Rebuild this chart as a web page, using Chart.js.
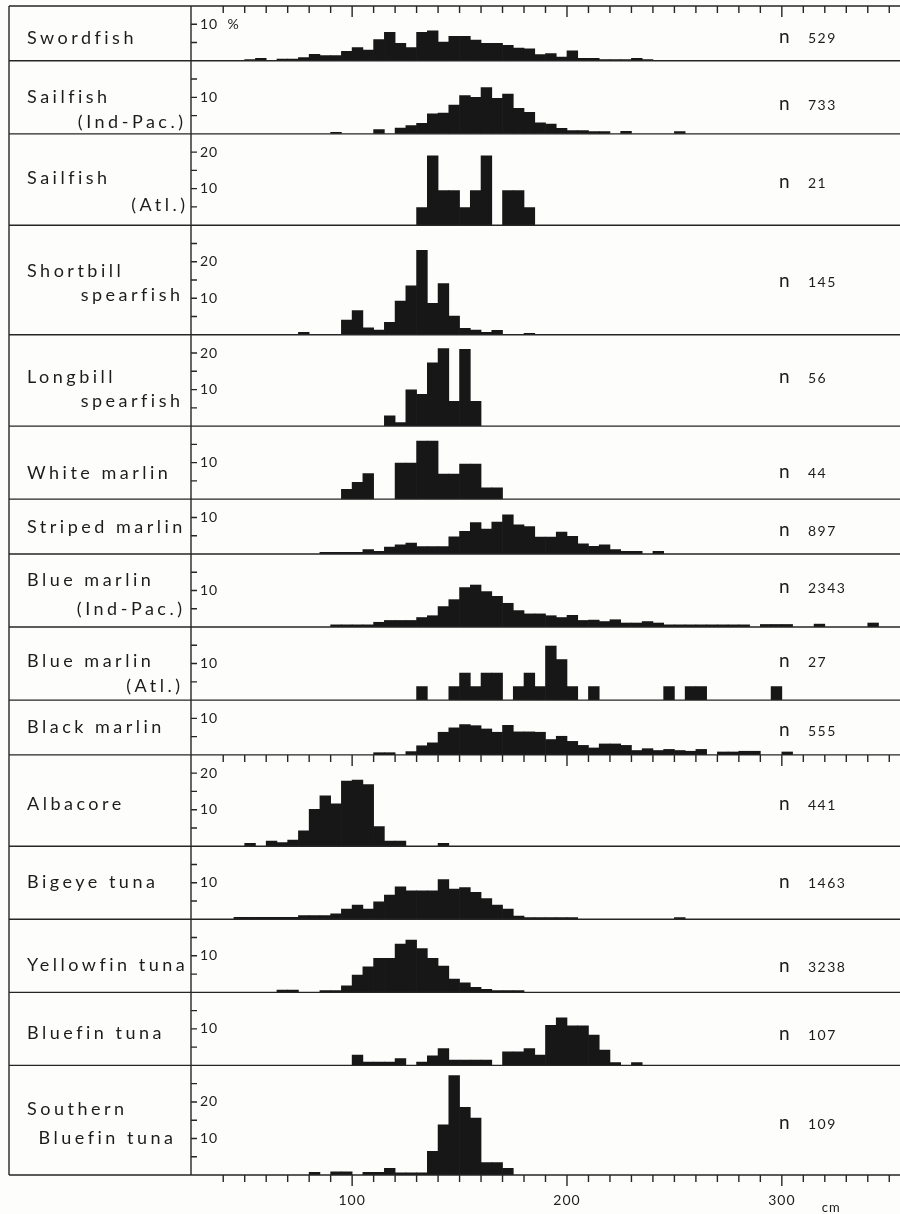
<!DOCTYPE html>
<html>
<head>
<meta charset="utf-8">
<title>Length frequency distributions</title>
<script src="https://cdn.jsdelivr.net/npm/chart.js@4.4.1/dist/chart.umd.min.js"></script>
<style>
  html, body { margin: 0; padding: 0; background: #fdfdfc; }
  canvas { display: block; }
</style>
</head>
<body>
<canvas id="fig" width="900" height="1214"></canvas>
<script>
// Length-frequency histograms (percent per 5 cm class) for billfishes and tunas.
const binWidth = 5;

const speciesLabels = [
  ['Swordfish'],
  ['Sailfish', '(Ind-Pac.)'],
  ['Sailfish', '(Atl.)'],
  ['Shortbill', 'spearfish'],
  ['Longbill', 'spearfish'],
  ['White marlin'],
  ['Striped marlin'],
  ['Blue marlin', '(Ind-Pac.)'],
  ['Blue marlin', '(Atl.)'],
  ['Black marlin'],
  ['Albacore'],
  ['Bigeye tuna'],
  ['Yellowfin tuna'],
  ['Bluefin tuna'],
  ['Southern', 'Bluefin tuna']
];
const sampleSize = [529, 733, 21, 145, 56, 44, 897, 2343, 27, 555, 441, 1463, 3238, 107, 109];

// lower edge (cm) of the first class in each series
const firstBin = [50, 90, 130, 75, 115, 95, 85, 90, 130, 110, 50, 45, 65, 100, 80];

const swordfish = [0.3, 0.7, 0, 0.45, 0.45, 0.9, 1.8, 1.45, 1.45, 2.6, 3.6, 2.9, 5.8, 7.8, 4.8, 3.6, 7.8, 8.2, 5.1, 6.7,
  6.7, 5.7, 4.8, 4.8, 4.2, 3.5, 3.3, 1.7, 2.0, 1.0, 2.7, 0.7, 0.7, 0.3, 0.3, 0.3, 0.7, 0.3];
const sailfishIndPac = [0.45, 0, 0, 0, 1.2, 0, 1.6, 2.3, 2.9, 5.5, 5.7, 7.9, 10.5, 10.0, 12.7, 9.7, 10.9, 7.0, 5.9, 3.0,
  2.7, 1.5, 0.9, 0.9, 0.6, 0.6, 0, 0.7, 0, 0, 0, 0, 0.6];
const sailfishAtl = [4.8, 19.0, 9.5, 9.5, 4.8, 9.5, 19.0, 0, 9.5, 9.5, 4.8];
const shortbillSpearfish = [0.7, 0, 0, 0, 4.0, 6.6, 1.9, 1.3, 3.4, 9.2, 13.4, 23.1, 8.6, 14.0, 5.1, 1.8, 1.3, 0.7, 1.2, 0, 0, 0.4];
const longbillSpearfish = [2.8, 1.0, 9.9, 8.7, 17.3, 21.2, 6.8, 21.0, 6.8];
const whiteMarlin = [2.7, 4.6, 7.0, 0, 0, 9.9, 9.9, 15.9, 15.9, 6.9, 6.9, 9.6, 9.6, 3.1, 3.1];
const stripedMarlin = [0.45, 0.45, 0.45, 0.45, 1.2, 0.7, 1.9, 2.5, 3.0, 2.0, 2.0, 2.0, 4.7, 6.2, 8.6, 6.8, 8.7, 10.7, 8.0, 7.5,
  4.6, 4.6, 6.0, 4.8, 2.8, 2.1, 2.5, 1.2, 0.7, 0.7, 0, 0.7];
const blueMarlinIndPac = [0.6, 0.6, 0.6, 0.6, 1.3, 1.8, 1.8, 1.8, 2.6, 3.1, 5.6, 7.5, 10.8, 11.5, 9.7, 8.4, 6.5, 4.5, 3.6, 3.6,
  3.1, 2.6, 3.2, 1.8, 1.9, 1.5, 2.0, 1.1, 1.1, 1.5, 1.1, 0.6, 0.6, 0.6, 0.6, 0.6, 0.6, 0.6, 0.6, 0,
  0.7, 0.7, 0.7, 0, 0, 0.8, 0, 0, 0, 0, 1.1];
const blueMarlinAtl = [3.7, 0, 0, 3.7, 7.4, 3.7, 7.4, 7.4, 0, 3.7, 7.4, 3.7, 14.8, 11.1, 3.7, 0, 3.7, 0, 0, 0,
  0, 0, 0, 3.7, 0, 3.7, 3.7, 0, 0, 0, 0, 0, 0, 3.7];
const blackMarlin = [0.6, 0.6, 0, 0.9, 2.5, 3.3, 6.2, 7.4, 8.3, 8.0, 7.1, 6.2, 8.1, 6.3, 6.3, 6.2, 4.2, 5.1, 3.7, 2.6,
  1.9, 3.0, 3.0, 2.6, 1.2, 1.7, 1.2, 1.5, 1.2, 1.0, 1.5, 0, 0.8, 0.8, 1.0, 1.0, 0, 0, 0.8];
const albacore = [0.8, 0, 1.4, 1.0, 1.7, 4.2, 10.1, 13.8, 11.6, 17.8, 18.1, 16.9, 5.4, 1.4, 1.4, 0, 0, 0, 0.8];
const bigeyeTuna = [0.55, 0.55, 0.55, 0.55, 0.55, 0.55, 1.0, 1.0, 1.0, 1.5, 2.8, 3.9, 2.8, 4.8, 6.6, 8.9, 7.8, 7.8, 7.8, 10.9,
  8.3, 8.7, 7.4, 5.7, 3.9, 2.8, 0.9, 0.45, 0.45, 0.45, 0.45, 0.45, 0, 0, 0, 0, 0, 0, 0, 0, 0, 0.45];
const yellowfinTuna = [0.6, 0.6, 0, 0, 0.45, 0.45, 1.8, 4.7, 7.0, 9.3, 9.3, 13.2, 14.3, 12.0, 9.3, 7.2, 3.6, 2.6, 1.4, 0.8,
  0.45, 0.45, 0.45];
const bluefinTuna = [2.8, 0.9, 0.9, 0.9, 1.9, 0, 0.9, 2.6, 4.6, 1.45, 1.45, 1.45, 1.45, 0, 3.7, 3.7, 4.6, 2.8, 11.0, 13.0,
  10.8, 10.8, 8.3, 4.2, 0.8, 0, 0.8];
const southernBluefinTuna = [0.7, 0, 0.9, 0.9, 0, 0.7, 0.7, 1.8, 0.6, 0.6, 0.6, 6.5, 13.7, 27.2, 18.5, 15.6, 3.4, 3.4, 1.8];

const series = [swordfish, sailfishIndPac, sailfishAtl, shortbillSpearfish, longbillSpearfish, whiteMarlin,
  stripedMarlin, blueMarlinIndPac, blueMarlinAtl, blackMarlin, albacore, bigeyeTuna, yellowfinTuna,
  bluefinTuna, southernBluefinTuna];

// percent range of each panel and the length axis
const yMax = [15, 20, 25, 30, 25, 20, 15, 20, 20, 15, 25, 20, 20, 20, 30];
const lengthRange = [30, 350];
const lengthLabels = [100, 200, 300];

// text placement, measured from each panel's baseline
const FONT = 'Lato, "DejaVu Sans", sans-serif';
const INK = '#1c1c1c';
const labelDy = [[-16.5], [-31, -6], [-41, -14.5], [-58, -34], [-43, -19], [-20], [-21], [-41, -12],
  [-33.5, -8.5], [-21.5], [-36], [-31], [-21.5], [-26], [-60, -31]];
const line2Right = [0, 183, 185, 180, 180, 0, 0, 182, 180, 0, 0, 0, 0, 0, 173];
const nDy = [-17.5, -24, -37, -48, -43, -21, -17.5, -34, -33.5, -18.5, -36, -31, -20.5, -25.5, -46.5];

const datasets = series.map((vals, i) => ({
  label: speciesLabels[i].join(' '),
  yAxisID: 'y' + i,
  backgroundColor: '#171717',
  borderColor: '#171717',
  borderWidth: 0,
  grouped: false,
  barPercentage: 1,
  categoryPercentage: 1,
  data: vals
    .map((v, k) => ({ x: firstBin[i] + k * binWidth + binWidth / 2, y: v }))
    .filter(p => p.y > 0)
}));

const scales = {
  x: {
    type: 'linear',
    position: 'bottom',
    min: lengthRange[0],
    max: lengthRange[1],
    afterFit: s => { s.height = 39; s.paddingLeft = 0; s.paddingRight = 0; },
    grid: { display: false, drawTicks: false },
    border: { display: false },
    ticks: {
      stepSize: 10,
      autoSkip: false,
      maxRotation: 0,
      includeBounds: false,
      padding: 17,
      color: '#222',
      font: { family: FONT, size: 14 },
      callback: v => lengthLabels.includes(v) ? String(v) : ''
    }
  }
};

series.forEach((_, i) => {
  scales['y' + i] = {
    type: 'linear',
    position: 'left',
    stack: 'panels',
    stackWeight: yMax[i],
    weight: series.length - i, // keeps panel order top to bottom
    min: 0,
    max: yMax[i],
    afterFit: s => { s.width = 0; s.paddingTop = 0; s.paddingBottom = 0; },
    grid: { display: false, drawTicks: false },
    border: { display: false },
    ticks: {
      stepSize: 5,
      autoSkip: false,
      includeBounds: false,
      mirror: true,
      padding: 9,
      color: '#222',
      font: { family: FONT, size: 14 },
      callback: v => {
        if (v <= 0 || v % 10 !== 0 || v >= yMax[i]) return '';
        return i === 0 ? v + '  %' : String(v);
      }
    }
  };
});

// frame, row rules, tick marks and the text around the histograms
const framePlugin = {
  id: 'frame',
  beforeDraw(chart) {
    const ctx = chart.ctx;
    ctx.save();
    ctx.fillStyle = '#fdfdfc';
    ctx.fillRect(0, 0, chart.width, chart.height);
    ctx.restore();
    ctx.letterSpacing = '1px';
  },
  afterDraw(chart) {
    const { ctx, chartArea, scales: sc } = chart;
    const x = sc.x;
    const left = 9, right = chart.width;

    ctx.save();
    ctx.strokeStyle = '#262626';
    ctx.lineWidth = 1.4;
    ctx.beginPath();
    ctx.moveTo(left, chartArea.top); ctx.lineTo(right, chartArea.top);
    ctx.moveTo(left, chartArea.top); ctx.lineTo(left, chartArea.bottom);
    ctx.moveTo(chartArea.left, chartArea.top); ctx.lineTo(chartArea.left, chartArea.bottom);

    series.forEach((_, i) => {
      const ys = sc['y' + i];
      const base = ys.getPixelForValue(0);
      ctx.moveTo(left, base); ctx.lineTo(right, base);
      ys.ticks.forEach(t => {
        if (t.value <= 0 || t.value >= ys.max) return;
        const py = ys.getPixelForValue(t.value);
        ctx.moveTo(chartArea.left, py); ctx.lineTo(chartArea.left + 6, py);
      });
    });

    // length ticks hang from the top edge, the black marlin baseline and the bottom axis
    [chartArea.top, sc.y9.bottom, chartArea.bottom].forEach(y0 => {
      x.ticks.forEach(t => {
        if (t.value <= x.min) return;
        const px = x.getPixelForValue(t.value);
        const len = t.value % 100 === 0 ? 11 : 7;
        ctx.moveTo(px, y0); ctx.lineTo(px, y0 + len);
      });
    });
    ctx.stroke();

    ctx.fillStyle = INK;
    ctx.textBaseline = 'alphabetic';
    speciesLabels.forEach((lines, i) => {
      const base = sc['y' + i].bottom;
      ctx.font = '18px ' + FONT;
      ctx.letterSpacing = '3.5px';
      ctx.textAlign = 'left';
      ctx.fillText(lines[0], 27, base + labelDy[i][0]);
      if (lines[1]) {
        ctx.textAlign = 'right';
        ctx.fillText(lines[1], line2Right[i] + 3.5, base + labelDy[i][1]);
      }
      ctx.textAlign = 'left';
      ctx.font = '19px ' + FONT;
      ctx.letterSpacing = '0px';
      ctx.fillText('n', 779, base + nDy[i]);
      ctx.font = '14px ' + FONT;
      ctx.letterSpacing = '1.5px';
      ctx.fillText(String(sampleSize[i]), 808, base + nDy[i]);
    });

    ctx.font = '13px ' + FONT;
    ctx.letterSpacing = '1px';
    ctx.fillText('cm', x.getPixelForValue(300) + 40, 1211.5);
    ctx.restore();
  }
};

new Chart(document.getElementById('fig'), {
  type: 'bar',
  data: { datasets },
  options: {
    responsive: false,
    animation: false,
    layout: { autoPadding: false, padding: { left: 191, top: 6, right: 0, bottom: 0 } },
    plugins: { legend: { display: false }, tooltip: { enabled: false }, colors: { enabled: false } },
    scales
  },
  plugins: [framePlugin]
});
</script>
</body>
</html>
